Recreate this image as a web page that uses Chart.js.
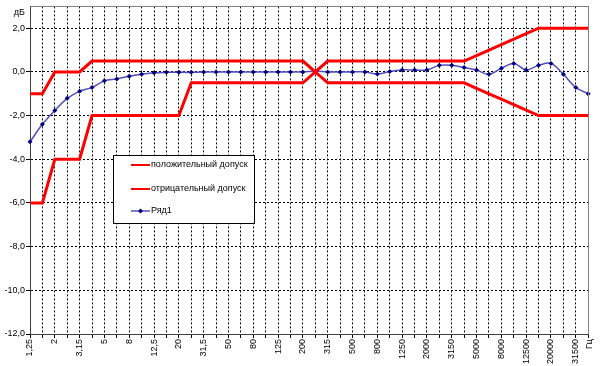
<!DOCTYPE html>
<html>
<head>
<meta charset="utf-8">
<script src="https://cdn.jsdelivr.net/npm/chart.js@4/dist/chart.umd.min.js"></script>
<style>
  html, body { margin: 0; padding: 0; background: #fff; }
  #wrap { width: 600px; height: 366px; }
</style>
</head>
<body>
<div id="wrap"><canvas id="chart" width="600" height="366"></canvas></div>
<script>
const FONT = '"Liberation Sans", Arial, sans-serif';

// third-octave frequencies, Hz
const freqLabels = [
  '1,25', '1,6', '2', '2,5', '3,15', '4', '5', '6,3', '8', '10',
  '12,5', '16', '20', '25', '31,5', '40', '50', '63', '80', '100',
  '125', '160', '200', '250', '315', '400', '500', '630', '800', '1000',
  '1250', '1600', '2000', '2500', '3150', '4000', '5000', '6300', '8000', '10000',
  '12500', '16000', '20000', '25000', '31500', '40000'
];

// tolerance, dB
const upperTol = [
  -1, -1, 0, 0, 0, 0.5, 0.5, 0.5, 0.5, 0.5,
  0.5, 0.5, 0.5, 0.5, 0.5, 0.5, 0.5, 0.5, 0.5, 0.5,
  0.5, 0.5, 0.5, 0, 0.5, 0.5, 0.5, 0.5, 0.5, 0.5,
  0.5, 0.5, 0.5, 0.5, 0.5, 0.5, 0.75, 1, 1.25, 1.5,
  1.75, 2, 2, 2, 2, 2
];
const lowerTol = [
  -6, -6, -4, -4, -4, -2, -2, -2, -2, -2,
  -2, -2, -2, -0.5, -0.5, -0.5, -0.5, -0.5, -0.5, -0.5,
  -0.5, -0.5, -0.5, 0, -0.5, -0.5, -0.5, -0.5, -0.5, -0.5,
  -0.5, -0.5, -0.5, -0.5, -0.5, -0.5, -0.75, -1, -1.25, -1.5,
  -1.75, -2, -2, -2, -2, -2
];
// measured response, dB
const row1 = [
  -3.2, -2.4, -1.77, -1.21, -0.89, -0.71, -0.41, -0.32, -0.2, -0.11,
  -0.04, -0.02, -0.02, -0.02, 0, 0, 0, 0, 0, 0,
  0, 0, 0, 0.03, 0, 0, 0, 0, -0.1, 0.02,
  0.09, 0.09, 0.09, 0.3, 0.3, 0.2, 0.09, -0.11, 0.17, 0.39,
  0.09, 0.3, 0.39, -0.11, -0.71, -1.0
];

const seriesNames = ['положительный допуск', 'отрицательный допуск', 'Ряд1'];

// --- Custom plugin: plot border, unit labels, legend box ---
const extras = {
  id: 'extras',
  afterDatasetsDraw(chart) {
    const { ctx, chartArea: a } = chart;
    ctx.save();
    ctx.strokeStyle = '#808080';
    ctx.lineWidth = 1;
    ctx.beginPath();
    ctx.moveTo(Math.round(a.left) + 0.5, Math.round(a.top) + 0.5);
    ctx.lineTo(Math.round(a.right) + 0.5, Math.round(a.top) + 0.5);
    ctx.lineTo(Math.round(a.right) + 0.5, Math.round(a.bottom) + 0.5);
    ctx.stroke();
    ctx.restore();
  },
  afterDraw(chart) {
    const { ctx, chartArea: a } = chart;
    ctx.save();
    ctx.fillStyle = '#000';
    ctx.font = '9px ' + FONT;

    // units
    ctx.textAlign = 'right';
    ctx.textBaseline = 'middle';
    ctx.fillText('дБ', 25, 13);
    ctx.save();
    ctx.translate(a.right + 1, a.bottom + 5);
    ctx.rotate(-Math.PI / 2);
    ctx.fillText('Гц', 0, 0);
    ctx.restore();

    // legend
    const bx = 113.5, by = 155.5, bw = 141, bh = 68;
    ctx.fillStyle = '#fff';
    ctx.fillRect(bx, by, bw, bh);
    ctx.strokeStyle = '#000';
    ctx.lineWidth = 1;
    ctx.strokeRect(bx, by, bw, bh);
    const rows = [165, 189, 211];
    chart.data.datasets.forEach((ds, i) => {
      const y = rows[i];
      ctx.strokeStyle = ds.borderColor;
      ctx.lineWidth = i < 2 ? 2 : 1.5;
      ctx.beginPath();
      ctx.moveTo(131, y);
      ctx.lineTo(150, y);
      ctx.stroke();
      if (i === 2) {
        ctx.fillStyle = ds.pointBackgroundColor;
        ctx.beginPath();
        ctx.moveTo(140.5, y - 2.5);
        ctx.lineTo(143, y);
        ctx.lineTo(140.5, y + 2.5);
        ctx.lineTo(138, y);
        ctx.closePath();
        ctx.fill();
      }
      ctx.fillStyle = '#000';
      ctx.textAlign = 'left';
      ctx.fillText(ds.label, 151, y);
    });
    ctx.restore();
  }
};

new Chart(document.getElementById('chart'), {
  type: 'line',
  data: {
    labels: freqLabels,
    datasets: [
      {
        label: seriesNames[0],
        data: upperTol,
        borderColor: '#ff0000',
        borderWidth: 3,
        pointRadius: 0,
        tension: 0,
      },
      {
        label: seriesNames[1],
        data: lowerTol,
        borderColor: '#ff0000',
        borderWidth: 3,
        pointRadius: 0,
        tension: 0,
      },
      {
        label: seriesNames[2],
        data: row1,
        borderColor: '#5050b8',
        borderWidth: 1.5,
        pointStyle: 'rectRot',
        pointRadius: 2.5,
        pointBackgroundColor: '#000080',
        pointBorderColor: '#000080',
        pointBorderWidth: 0,
        tension: 0.35,
      },
    ]
  },
  options: {
    responsive: false,
    devicePixelRatio: 1,
    animation: false,
    events: [],
    layout: { padding: { top: 5, right: 11, bottom: 0, left: 0 } },
    plugins: {
      legend: { display: false },
      tooltip: { enabled: false }
    },
    scales: {
      x: {
        offset: false,
        afterFit: s => { s.height = 32; },
        ticks: {
          autoSkip: false,
          maxRotation: 90,
          minRotation: 90,
          padding: 1,
          color: '#000',
          font: { family: FONT, size: 9 },
          callback: (v, i) => i % 2 === 0 ? freqLabels[i] : ''
        },
        grid: {
          color: '#000',
          tickLength: 4,
          tickColor: '#000',
          tickBorderDash: [],
        },
        border: { color: '#404040', width: 1, dash: [2, 2] }
      },
      y: {
        min: -12,
        max: 3,
        afterFit: s => { s.width = 30; },
        ticks: {
          stepSize: 2,
          includeBounds: false,
          padding: 1,
          color: '#000',
          font: { family: FONT, size: 9 },
          callback: v => v.toFixed(1).replace('.', ',')
        },
        grid: {
          color: '#000',
          tickLength: 4,
          tickColor: '#000',
          tickBorderDash: [],
        },
        border: { color: '#404040', width: 1, dash: [2, 2] }
      }
    }
  },
  plugins: [extras]
});
</script>
</body>
</html>
